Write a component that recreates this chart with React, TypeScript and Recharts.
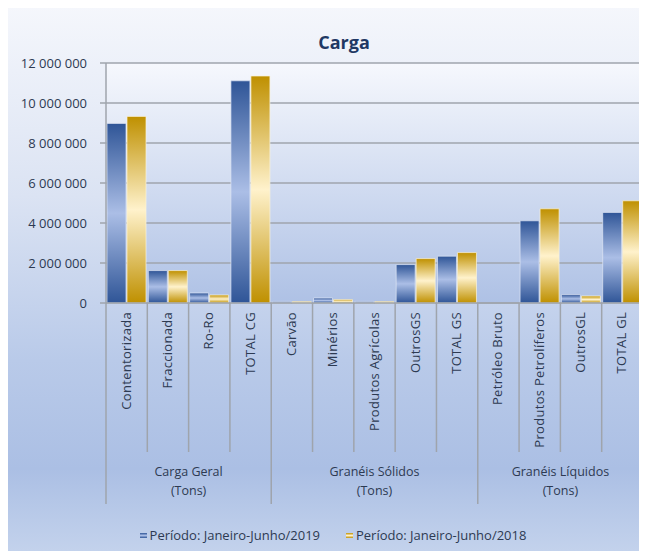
import { BarChart, Bar, XAxis, YAxis, CartesianGrid, Legend } from 'recharts';

const categories = [
  'Contentorizada',
  'Fraccionada',
  'Ro-Ro',
  'TOTAL CG',
  'Carvão',
  'Minérios',
  'Produtos Agrícolas',
  'OutrosGS',
  'TOTAL GS',
  'Petróleo Bruto',
  'Produtos Petrolíferos',
  'OutrosGL',
  'TOTAL GL',
];

const periodo2019 = [8980000, 1620000, 500000, 11110000, 80000, 250000, 80000, 1920000, 2340000, 0, 4110000, 420000, 4530000];
const periodo2018 = [9330000, 1620000, 400000, 11350000, 70000, 170000, 70000, 2220000, 2520000, 0, 4710000, 350000, 5110000];

const grupos = ['Carga Geral', 'Granéis Sólidos', 'Granéis Líquidos'];
const tamanhosGrupos = [4, 5, 4];
const unidade = '(Tons)';

const yTicks = [0, 2000000, 4000000, 6000000, 8000000, 10000000, 12000000];

const serie2019 = 'Período: Janeiro-Junho/2019';
const serie2018 = 'Período: Janeiro-Junho/2018';

const dados = categories.map((nome, i) => ({
  nome,
  v2019: periodo2019[i],
  v2018: periodo2018[i],
}));

const LARGURA = 640;
const ALTURA = 546;
const MARGEM = { top: 58, right: 4, left: 0, bottom: 0 };
const Y_LARGURA = 99;
const BANDA = (LARGURA - MARGEM.left - MARGEM.right - Y_LARGURA) / categories.length;

const FONTE = "'Open Sans', sans-serif";
const COR_TEXTO = '#2d3a52';
const COR_LINHA = '#9fa4ac';

const iniciosGrupos = tamanhosGrupos.map((_, g) => tamanhosGrupos.slice(0, g).reduce((a, b) => a + b, 0));

const formatarNumero = (v: number) => v.toString().replace(/\B(?=(\d{3})+(?!\d))/g, ' ');

const TickCategoria = (props: any) => {
  const { x, y, payload } = props;
  const i = props.index ?? payload.index;
  const esquerda = x - BANDA / 2;
  const g = iniciosGrupos.indexOf(i);
  const ultimo = i === categories.length - 1;
  return (
    <g>
      <line x1={esquerda} x2={esquerda} y1={y} y2={y + (g >= 0 ? 201 : 149)} stroke={COR_LINHA} strokeWidth={1.5} />
      {ultimo && (
        <line x1={x + BANDA / 2} x2={x + BANDA / 2} y1={y} y2={y + 201} stroke={COR_LINHA} strokeWidth={1.5} />
      )}
      <text
        transform={`translate(${x + 4},${y + 9}) rotate(-90)`}
        textAnchor="end"
        fontFamily={FONTE}
        fontSize={13}
        letterSpacing={0.3}
        fill={COR_TEXTO}
      >
        {payload.value}
      </text>
      {g >= 0 && (
        <g>
          <text x={esquerda + (tamanhosGrupos[g] * BANDA) / 2} y={y + 173} textAnchor="middle" fontFamily={FONTE} fontSize={12.5} fill={COR_TEXTO}>
            {grupos[g]}
          </text>
          <text x={esquerda + (tamanhosGrupos[g] * BANDA) / 2} y={y + 192} textAnchor="middle" fontFamily={FONTE} fontSize={12.5} fill={COR_TEXTO}>
            {unidade}
          </text>
        </g>
      )}
    </g>
  );
};

const Legenda = () => (
  <div
    style={{
      height: 36,
      display: 'flex',
      justifyContent: 'center',
      alignItems: 'center',
      gap: 26,
      paddingTop: 4,
      paddingLeft: 16,
      boxSizing: 'border-box',
      fontFamily: FONTE,
      fontSize: 13,
      color: COR_TEXTO,
    }}
  >
    <span style={{ display: 'flex', alignItems: 'center' }}>
      <span style={{ width: 7, height: 5, background: 'linear-gradient(#2f5597, #a9bde6, #2f5597)', marginRight: 3 }} />
      {serie2019}
    </span>
    <span style={{ display: 'flex', alignItems: 'center' }}>
      <span style={{ width: 7, height: 5, background: 'linear-gradient(#bf9000, #fff2cc, #bf9000)', marginRight: 3 }} />
      {serie2018}
    </span>
  </div>
);

export default function App() {
  return (
    <div
      style={{
        position: 'relative',
        width: LARGURA,
        height: ALTURA,
        marginLeft: -1,
        marginTop: -3,
        background: 'linear-gradient(to bottom, #f5f7fc 0%, #dbe3f3 35%, #b9cae9 65%, #abbfe4 85%, #c3d2ec 100%)',
      }}
    >
      <svg width={0} height={0} style={{ position: 'absolute' }}>
        <defs>
          <linearGradient id="gradAzul" x1="0" y1="0" x2="0" y2="1">
            <stop offset="0%" stopColor="#2f5597" />
            <stop offset="50%" stopColor="#abbee6" />
            <stop offset="100%" stopColor="#2f5597" />
          </linearGradient>
          <linearGradient id="gradOuro" x1="0" y1="0" x2="0" y2="1">
            <stop offset="0%" stopColor="#bf9000" />
            <stop offset="50%" stopColor="#fff2cc" />
            <stop offset="100%" stopColor="#bf9000" />
          </linearGradient>
          <linearGradient id="gradPlot" x1="0" y1="0" x2="0" y2="1">
            <stop offset="0%" stopColor="#f6f8fd" />
            <stop offset="100%" stopColor="#aec1e5" />
          </linearGradient>
        </defs>
      </svg>
      <div
        style={{
          position: 'absolute',
          top: 25,
          left: 287,
          width: 100,
          textAlign: 'center',
          fontFamily: FONTE,
          fontWeight: 700,
          fontSize: 18,
          color: '#1f3864',
        }}
      >
        Carga
      </div>
      <BarChart width={LARGURA} height={ALTURA} data={dados} margin={MARGEM} barCategoryGap={1} barGap={1}>
        <CartesianGrid vertical={false} stroke={COR_LINHA} strokeWidth={1.5} fill="url(#gradPlot)" />
        <XAxis
          dataKey="nome"
          interval={0}
          height={212}
          tickSize={0}
          tickMargin={0}
          tickLine={false}
          axisLine={{ stroke: COR_LINHA, strokeWidth: 1.5 }}
          tick={<TickCategoria />}
        />
        <YAxis
          width={Y_LARGURA}
          domain={[0, 12000000]}
          ticks={yTicks}
          tickFormatter={formatarNumero}
          tickSize={6}
          tickMargin={13}
          axisLine={{ stroke: COR_LINHA, strokeWidth: 1.5 }}
          tickLine={{ stroke: COR_LINHA, strokeWidth: 1.5 }}
          tick={{ fill: COR_TEXTO, fontFamily: FONTE, fontSize: 13 }}
        />
        <Legend verticalAlign="bottom" content={<Legenda />} />
        <Bar dataKey="v2019" name={serie2019} fill="url(#gradAzul)" stroke="#dfe7f5" strokeOpacity={0.7} strokeWidth={1} isAnimationActive={false} />
        <Bar dataKey="v2018" name={serie2018} fill="url(#gradOuro)" stroke="#fbf3da" strokeOpacity={0.7} strokeWidth={1} isAnimationActive={false} />
      </BarChart>
    </div>
  );
}
